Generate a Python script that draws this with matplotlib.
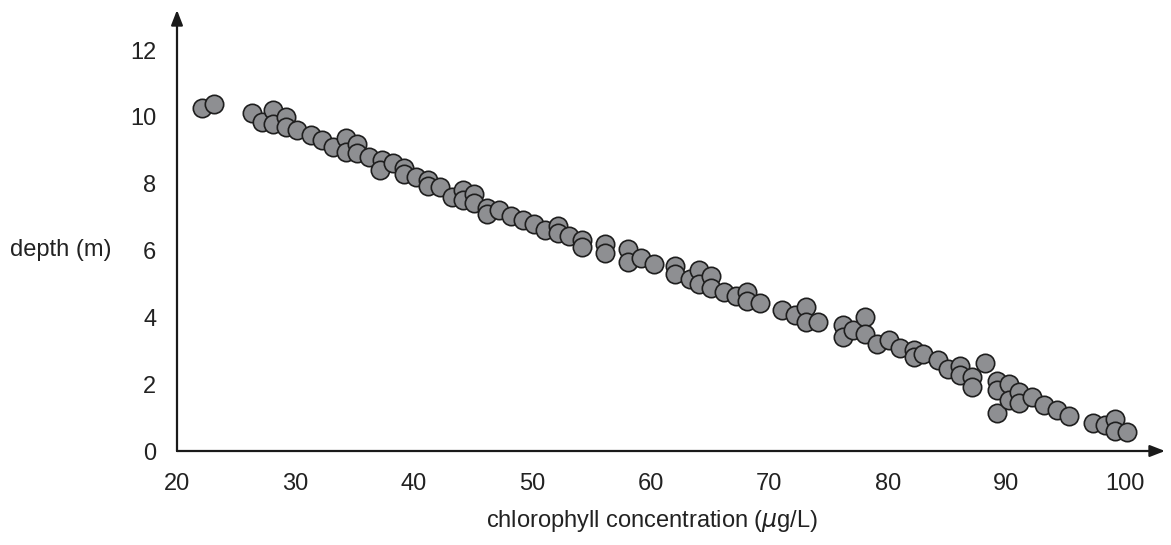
import matplotlib
matplotlib.use("Agg")
import matplotlib.pyplot as plt

plt.rcParams['font.family'] = ['Liberation Sans', 'DejaVu Sans']

# chlorophyll concentration (ug/L) vs depth (m)
chl = [22.1, 23.1, 26.3, 27.2, 28.1, 28.1, 29.2, 29.2, 30.1, 31.3,
       32.2, 33.2, 34.3, 34.3, 35.2, 35.2, 36.2, 37.3, 37.1, 38.2,
       39.2, 39.2, 40.2, 41.2, 41.2, 42.2, 43.2, 44.1, 44.1, 45.1,
       45.1, 46.2, 46.2, 47.2, 48.2, 49.2, 50.1, 51.1, 52.2, 52.2,
       53.1, 54.2, 54.2, 56.1, 56.1, 58.1, 58.1, 59.2, 60.3, 62.0,
       62.0, 63.3, 64.1, 64.1, 65.1, 65.1, 66.2, 67.2, 68.1, 68.1,
       69.2, 71.1, 72.2, 73.1, 73.1, 74.1, 76.2, 76.2, 77.1, 78.1,
       78.1, 79.1, 80.1, 81.0, 82.2, 82.2, 83.0, 84.2, 85.1, 86.1,
       86.1, 87.1, 87.1, 88.2, 89.2, 89.2, 89.2, 90.2, 90.2, 91.1,
       91.1, 92.2, 93.2, 94.3, 95.3, 97.3, 98.3, 99.2, 99.2, 100.2]
depth = [10.27, 10.39, 10.12, 9.85, 10.21, 9.79, 10.0, 9.70, 9.61, 9.46,
         9.31, 9.10, 9.37, 8.95, 9.19, 8.92, 8.80, 8.71, 8.41, 8.62,
         8.47, 8.29, 8.20, 8.11, 7.93, 7.90, 7.60, 7.81, 7.51, 7.69,
         7.43, 7.28, 7.10, 7.22, 7.04, 6.92, 6.80, 6.62, 6.74, 6.53,
         6.44, 6.32, 6.11, 6.20, 5.93, 6.05, 5.66, 5.78, 5.60, 5.54,
         5.30, 5.15, 5.42, 5.00, 5.24, 4.88, 4.76, 4.64, 4.76, 4.49,
         4.43, 4.22, 4.07, 4.31, 3.86, 3.86, 3.77, 3.41, 3.62, 4.01,
         3.50, 3.20, 3.32, 3.08, 3.02, 2.81, 2.90, 2.72, 2.46, 2.54,
         2.28, 2.22, 1.92, 2.63, 2.10, 1.83, 1.14, 2.01, 1.53, 1.77,
         1.44, 1.62, 1.38, 1.23, 1.05, 0.84, 0.78, 0.96, 0.60, 0.57]

xticks = [20, 30, 40, 50, 60, 70, 80, 90, 100]
yticks = [0, 2, 4, 6, 8, 10, 12]

W, H = 1171, 545
fig = plt.figure(figsize=(W / 100, H / 100), dpi=100)
# axes box runs from the origin to the arrow tips
ax = fig.add_axes([177 / W, (H - 451) / H, (1165 - 177) / W, (451 - 10) / H])
ax.set_xlim(20, 103.4)
ax.set_ylim(0, 13.2)

ax.scatter(chl, depth, s=175, facecolor='#8e8f92', edgecolor='#1e1e1e',
           linewidth=1.2, zorder=3, clip_on=False)

for s in ax.spines.values():
    s.set_visible(False)

arrow = dict(arrowstyle='-|>,head_length=0.9,head_width=0.35', color='#1a1a1a',
             lw=1.6, shrinkA=0, shrinkB=0)
ax.annotate('', xy=(1, 0), xytext=(0, 0), xycoords='axes fraction',
            arrowprops=arrow, annotation_clip=False)
ax.annotate('', xy=(0, 1), xytext=(0, 0), xycoords='axes fraction',
            arrowprops=arrow, annotation_clip=False)

ax.set_xticks(xticks)
ax.set_yticks(yticks)
ax.tick_params(length=0, labelsize=17, colors='#222222')
ax.tick_params(axis='x', pad=16)
ax.tick_params(axis='y', pad=15)

ax.set_xlabel('chlorophyll concentration ($\\mathit{\\mu}$g/L)', fontsize=17, color='#222222')
ax.xaxis.set_label_coords(0.481, -0.13)
ax.set_ylabel('depth (m)', fontsize=17, color='#222222', rotation=0,
              ha='right', va='center')
ax.yaxis.set_label_coords(-0.066, 0.456)

fig.savefig('out.png', dpi=100)
